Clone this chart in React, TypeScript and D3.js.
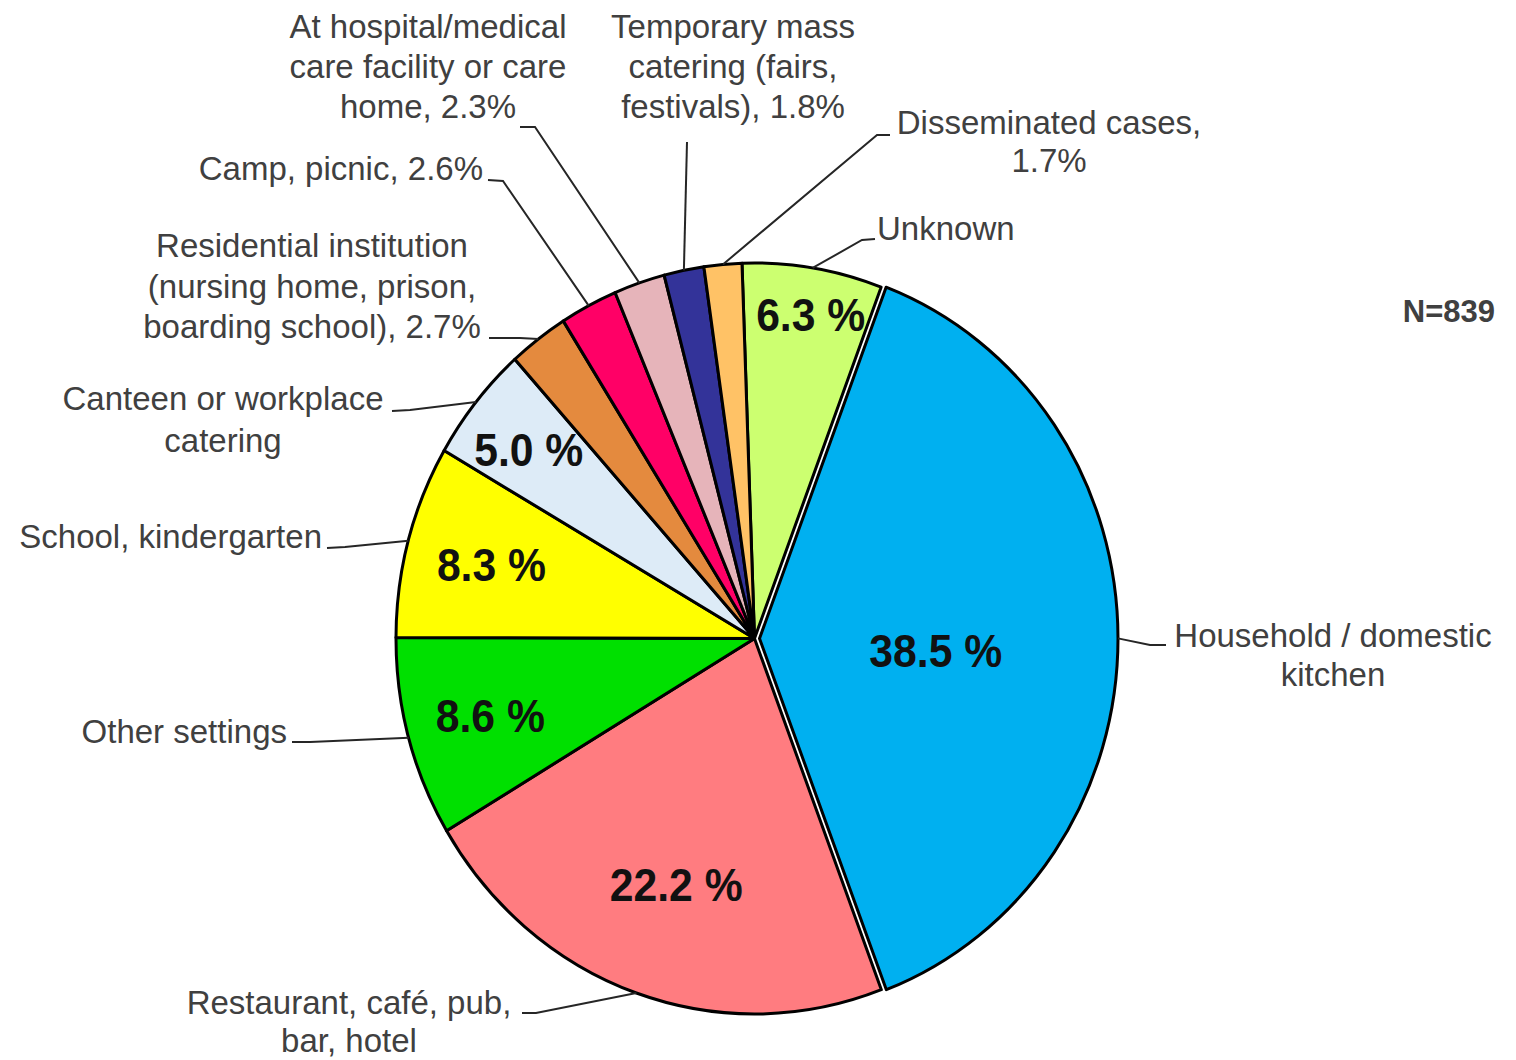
import React from "react";
import * as d3 from "d3";

// ---- data ----
const categories = [
  "Unknown",
  "Household / domestic kitchen",
  "Restaurant, café, pub, bar, hotel",
  "Other settings",
  "School, kindergarten",
  "Canteen or workplace catering",
  "Residential institution (nursing home, prison, boarding school)",
  "Camp, picnic",
  "At hospital/medical care facility or care home",
  "Temporary mass catering (fairs, festivals)",
  "Disseminated cases",
];
const values = [6.3, 38.5, 22.2, 8.6, 8.3, 5.0, 2.7, 2.6, 2.3, 1.8, 1.7];
const sliceColors = [
  "#CCFF70",
  "#00B0F0",
  "#FF7C80",
  "#00E000",
  "#FFFF00",
  "#DDEBF7",
  "#E48A3E",
  "#FF0066",
  "#E6B4BA",
  "#333399",
  "#FFC266",
];
// label text lines; {p} is replaced by the value
const labelLines: string[][] = [
  ["Unknown"],
  ["Household / domestic", "kitchen"],
  ["Restaurant, café, pub,", "bar, hotel"],
  ["Other settings"],
  ["School, kindergarten"],
  ["Canteen or workplace", "catering"],
  ["Residential institution", "(nursing home, prison,", "boarding school), {p}"],
  ["Camp, picnic, {p}"],
  ["At hospital/medical", "care facility or care", "home, {p}"],
  ["Temporary mass", "catering (fairs,", "festivals), {p}"],
  ["Disseminated cases,", "{p}"],
];
const showInside = [true, true, true, true, true, true, false, false, false, false, false];
const totalN = 839;

// ---- layout (positions, not data) ----
const W = 1516;
const H = 1060;
const cx = 754.5;
const cy = 638.5;
const rx = 358.5;
const ry = 375.5;
const startDeg = -2;
const explode = [0, 5, 0, 0, 0, 0, 0, 0, 0, 0, 0];
const insideRadius = [0.88, 0.5, 0.68, 0.77, 0.76, 0.8];
const insideShift: [number, number][] = [
  [5, 2],
  [-3, 12],
  [2, 5],
  [2, 0],
  [0, 0],
  [-3, 0],
];

type Lay = { x: number; y: number; anchor: "start" | "middle" | "end"; lh: number; lead: [number, number, number, number] };
const labelLayout: Lay[] = [
  { x: 877, y: 240, anchor: "start", lh: 40, lead: [875, 239, 862, 240] },
  { x: 1333, y: 647, anchor: "middle", lh: 39, lead: [1166, 645, 1150, 645] },
  { x: 349, y: 1014, anchor: "middle", lh: 38, lead: [522, 1013, 536, 1013] },
  { x: 287, y: 743, anchor: "end", lh: 40, lead: [292, 742, 310, 742] },
  { x: 322, y: 548, anchor: "end", lh: 40, lead: [327, 548, 345, 547] },
  { x: 223, y: 410, anchor: "middle", lh: 42, lead: [392, 411, 410, 410] },
  { x: 312, y: 257, anchor: "middle", lh: 40.5, lead: [489, 338, 520, 338] },
  { x: 483, y: 180, anchor: "end", lh: 40, lead: [488, 180, 503, 181] },
  { x: 428, y: 38, anchor: "middle", lh: 40, lead: [520, 127, 535, 127] },
  { x: 733, y: 38, anchor: "middle", lh: 40, lead: [687, 142, 687, 142] },
  { x: 1049, y: 134, anchor: "middle", lh: 38, lead: [890, 135, 877, 135] },
];

const FONT = "'Liberation Sans', Arial, Helvetica, sans-serif";

export default function App() {
  const a0 = (startDeg * Math.PI) / 180;
  const pie = d3
    .pie<number>()
    .sort(null)
    .value((d) => d)
    .startAngle(a0)
    .endAngle(a0 + 2 * Math.PI);
  const arcs = pie(values);
  const arc = d3.arc<d3.PieArcDatum<number>>().innerRadius(0).outerRadius(rx);
  const sy = ry / rx;

  const pt = (ang: number, rFrac: number, off: number) => {
    const x = cx + Math.sin(ang) * (rx * rFrac + off);
    const y = cy - Math.cos(ang) * (ry * rFrac + off * sy);
    return [x, y];
  };

  return (
    <svg
      width={W}
      height={H}
      viewBox={`0 0 ${W} ${H}`}
      style={{ position: "absolute", left: 0, top: 0, background: "#fff" }}
    >
      <rect x={0} y={0} width={W} height={H} fill="#fff" />
      <g transform={`translate(${cx},${cy}) scale(1,${sy})`}>
        {arcs.map((a, i) => {
          const mid = (a.startAngle + a.endAngle) / 2;
          const dx = Math.sin(mid) * explode[i];
          const dy = -Math.cos(mid) * explode[i];
          return (
            <path
              key={categories[i]}
              d={arc(a) || ""}
              transform={`translate(${dx},${dy})`}
              fill={sliceColors[i]}
              stroke="#000"
              strokeWidth={3}
              strokeLinejoin="round"
              vectorEffect="non-scaling-stroke"
            />
          );
        })}
      </g>
      {/* leader lines */}
      {arcs.map((a, i) => {
        const mid = (a.startAngle + a.endAngle) / 2;
        const [ex, ey] = pt(mid, 1, explode[i]);
        const L = labelLayout[i].lead;
        return (
          <polyline
            key={"lead" + i}
            points={`${L[0]},${L[1]} ${L[2]},${L[3]} ${ex},${ey}`}
            fill="none"
            stroke="#262626"
            strokeWidth={2}
          />
        );
      })}
      {/* outer labels */}
      {labelLines.map((lines, i) => {
        const lay = labelLayout[i];
        const pct = values[i].toFixed(1) + "%";
        return (
          <text
            key={"lab" + i}
            fontFamily={FONT}
            fontSize={33}
            fill="#404040"
            textAnchor={lay.anchor}
          >
            {lines.map((ln, j) => (
              <tspan key={j} x={lay.x} y={lay.y + j * lay.lh}>
                {ln.replace("{p}", pct)}
              </tspan>
            ))}
          </text>
        );
      })}
      {/* inside percentage labels */}
      {arcs.map((a, i) => {
        if (!showInside[i]) return null;
        const mid = (a.startAngle + a.endAngle) / 2;
        const [x, y] = pt(mid, insideRadius[i], explode[i]);
        const [sx, sh] = insideShift[i];
        return (
          <text
            key={"pct" + i}
            transform={`translate(${x + sx},${y + sh}) scale(0.97,1.05)`}
            dy="0.36em"
            textAnchor="middle"
            fontFamily={FONT}
            fontWeight="bold"
            fontSize={44}
            fill="#111"
          >
            {values[i].toFixed(1) + " %"}
          </text>
        );
      })}
      <text
        x={1495}
        y={322}
        textAnchor="end"
        fontFamily={FONT}
        fontWeight="bold"
        fontSize={31}
        fill="#404040"
      >
        {`N=${totalN}`}
      </text>
    </svg>
  );
}
